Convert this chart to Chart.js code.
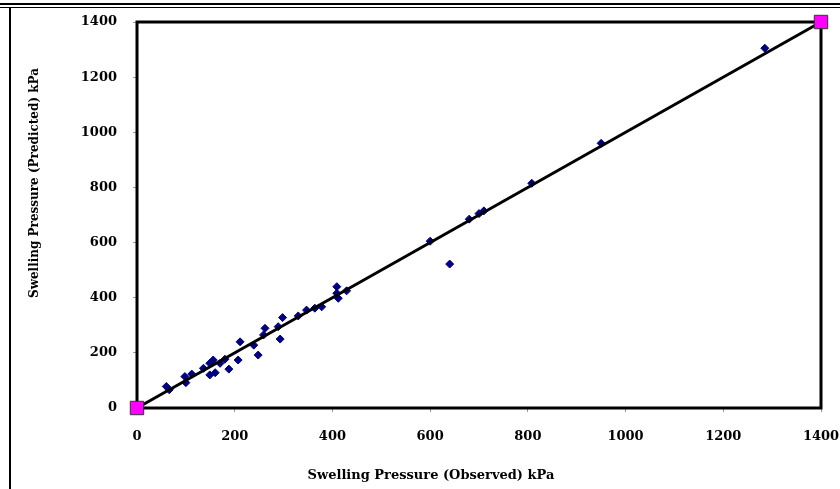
<!DOCTYPE html>
<html>
<head>
<meta charset="utf-8">
<script src="https://cdn.jsdelivr.net/npm/chart.js@4.4.1/dist/chart.umd.min.js"></script>
<style>
html,body{margin:0;padding:0;background:#fff;}
#wrap{width:840px;height:489px;position:relative;}
</style>
</head>
<body>
<div id="wrap"><canvas id="c" width="840" height="489"></canvas></div>
<script>
// Data
const observed = [60,66,98,100,112,136,149,149,156,160,170,180,188,207,211,239,248,259,262,289,293,298,330,347,364,378,409,409,412,429,600,640,680,700,710,808,950,1285];
const predicted = [78,66,114,92,123,144,120,162,174,128,162,177,141,174,240,228,192,265,289,295,250,328,334,355,362,367,440,416,398,425,605,522,685,705,715,815,960,1305];
const lineX = [0,1400];
const lineY = [0,1400];
const tickValues = [0,200,400,600,800,1000,1200,1400];
const xTitle = 'Swelling Pressure (Observed) kPa';
const yTitle = 'Swelling Pressure (Predicted) kPa';

const pts = observed.map((x,i)=>({x:x,y:predicted[i]}));
const linePts = lineX.map((x,i)=>({x:x,y:lineY[i]}));

const framePlugin = {
  id:'frame',
  beforeDatasetsDraw(chart){
    const {ctx, chartArea:a} = chart;
    ctx.save();
    ctx.strokeStyle='#000';
    ctx.lineWidth=3;
    ctx.strokeRect(a.left, a.top, a.right-a.left, a.bottom-a.top);
    ctx.restore();
  },
  afterDraw(chart){
    const ctx = chart.ctx;
    ctx.save();
    ctx.strokeStyle='#000';
    ctx.lineWidth=2;
    ctx.beginPath(); ctx.moveTo(0,4); ctx.lineTo(chart.width,4); ctx.stroke();
    ctx.lineWidth=1;
    ctx.beginPath(); ctx.moveTo(0,7.5); ctx.lineTo(chart.width,7.5); ctx.stroke();
    ctx.lineWidth=2;
    ctx.beginPath(); ctx.moveTo(10,8); ctx.lineTo(10,chart.height); ctx.stroke();
    ctx.fillStyle='#000';
    ctx.textAlign='center';
    ctx.textBaseline='middle';
    ctx.font='bold 13px "DejaVu Serif"';
    ctx.fillText(xTitle, 431, 476);
    ctx.translate(35, 183);
    ctx.rotate(-Math.PI/2);
    ctx.font='bold 12px "DejaVu Serif"';
    ctx.fillText(yTitle, 0, 0);
    ctx.restore();
  }
};

const tickFont = {family:'"DejaVu Serif"', size:13, weight:'bold'};

new Chart(document.getElementById('c'), {
  type:'scatter',
  data:{
    datasets:[
      {
        label:'line',
        data:linePts,
        showLine:true,
        clip:false,
        borderColor:'#000',
        borderWidth:3,
        pointStyle:'rect',
        pointRadius:9.5,
        pointBackgroundColor:'#ff00ff',
        pointBorderColor:'#333',
        pointBorderWidth:1,
        order:0
      },
      {
        label:'data',
        data:pts,
        clip:false,
        pointStyle:'rectRot',
        pointRadius:4,
        pointBackgroundColor:'#000080',
        pointBorderColor:'#000080',
        pointBorderWidth:1,
        order:1
      }
    ]
  },
  options:{
    responsive:false,
    animation:false,
    layout:{padding:{left:0,right:19,top:22,bottom:0}},
    plugins:{legend:{display:false},tooltip:{enabled:false}},
    scales:{
      x:{
        type:'linear', min:0, max:1400,
        afterBuildTicks(s){ s.ticks = tickValues.map(v=>({value:v})); },
        afterFit(s){ s.height = 81; s.paddingLeft = 0; s.paddingRight = 0; },
        grid:{drawOnChartArea:false, drawTicks:true, tickLength:4, color:'#999'},
        border:{display:false},
        ticks:{font:tickFont, color:'#000', padding:17, maxRotation:0, autoSkip:false, callback:v=>String(v)}
      },
      y:{
        type:'linear', min:0, max:1400,
        afterBuildTicks(s){ s.ticks = tickValues.map(v=>({value:v})); },
        afterFit(s){ s.width = 137; s.paddingTop = 0; s.paddingBottom = 0; },
        grid:{drawOnChartArea:false, drawTicks:true, tickLength:4, color:'#999'},
        border:{display:false},
        ticks:{font:tickFont, color:'#000', padding:16, autoSkip:false, callback:v=>String(v)}
      }
    }
  },
  plugins:[framePlugin]
});
</script>
</body>
</html>
